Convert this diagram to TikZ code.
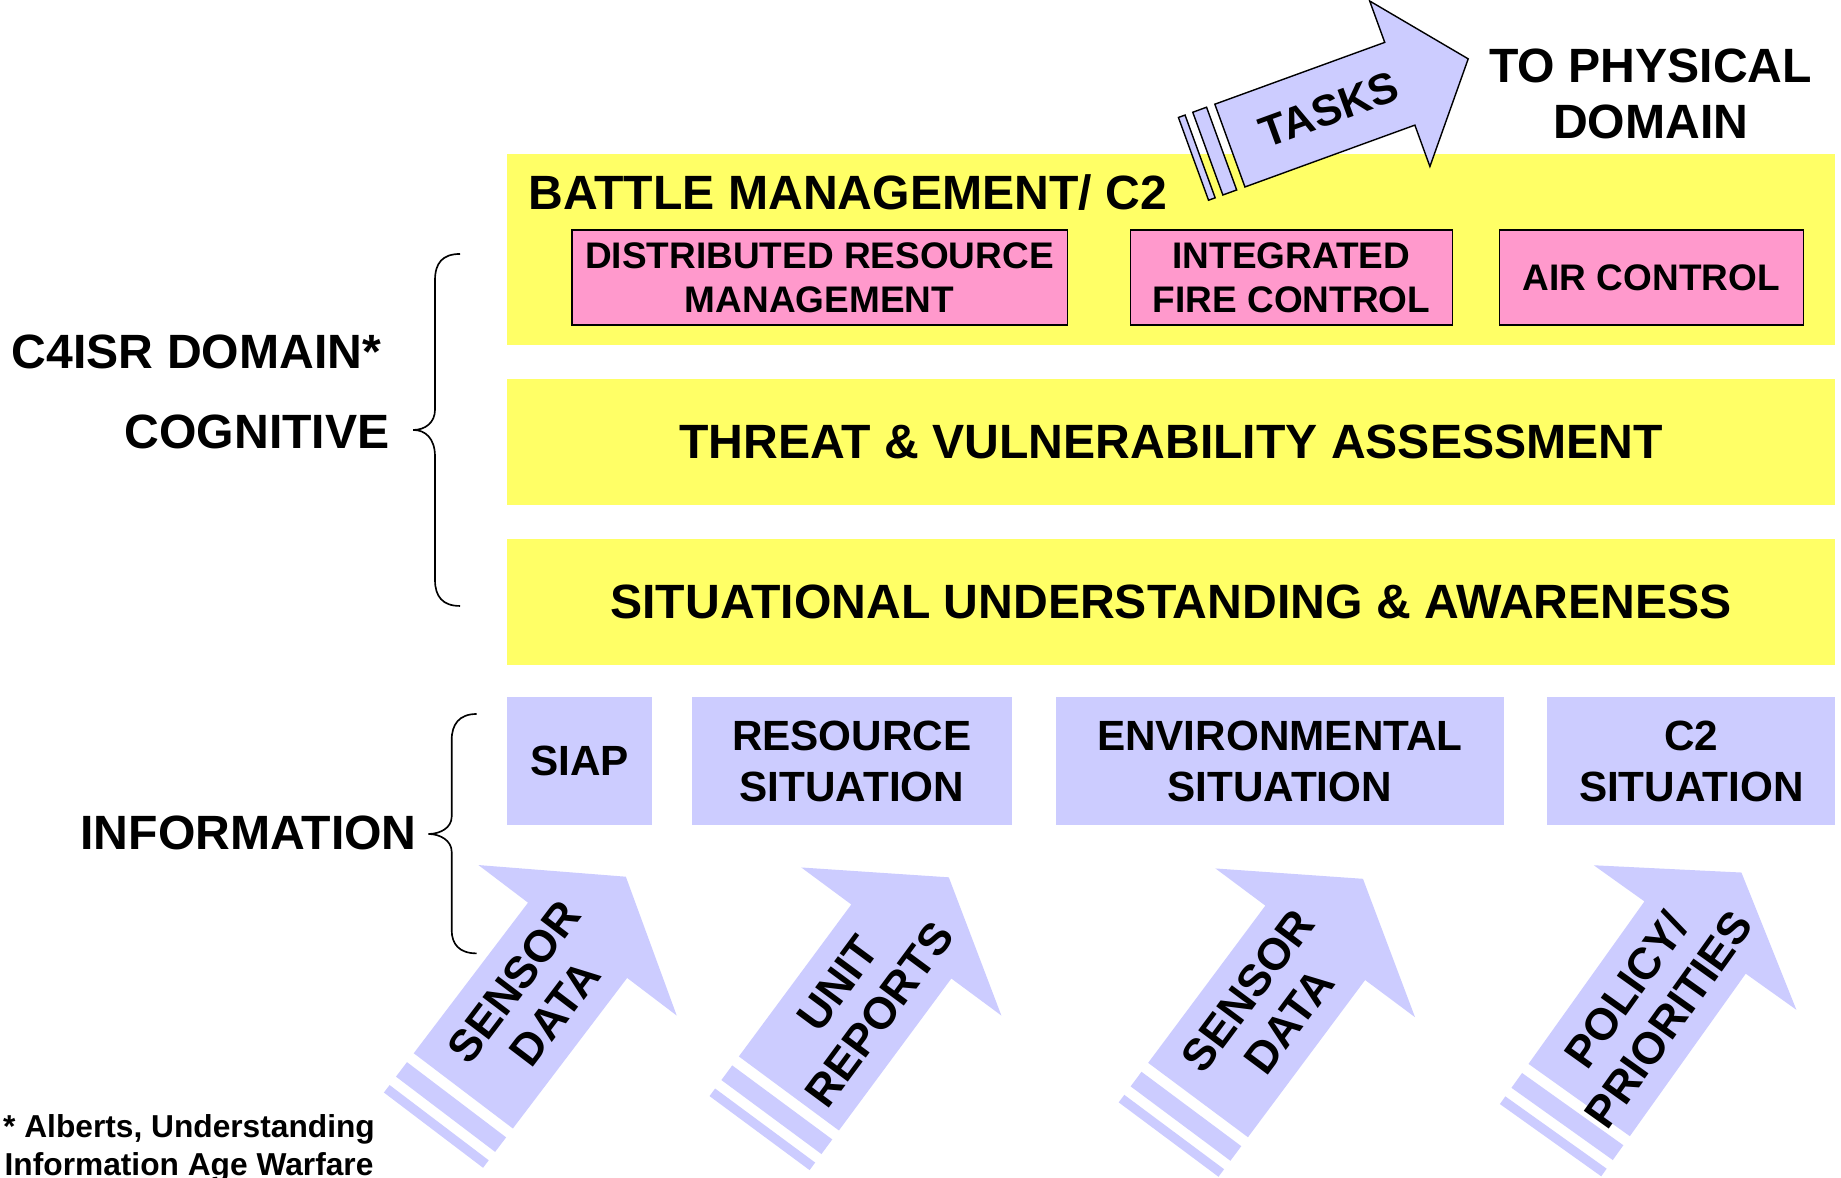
\documentclass[tikz,border=0pt]{standalone}
\usepackage{fontspec}
\setmainfont{Liberation Sans}
\definecolor{yel}{HTML}{FFFF66}
\definecolor{pnk}{HTML}{FF99CC}
\definecolor{lav}{HTML}{CCCCFF}
\tikzset{
  arrlen/.store in=\arrlen, arrlen=165,
  band/.style={fill=yel, minimum width=1131pt, inner sep=0pt, outer sep=0pt, font=\bfseries\fontsize{41}{48}\selectfont},
  pinkbox/.style={fill=pnk, draw=black, line width=1.3pt, minimum height=81pt, inner sep=0pt, align=center, font=\bfseries\fontsize{31.5}{38}\selectfont},
  lavbox/.style={fill=lav, minimum height=109pt, inner sep=0pt, align=center, font=\bfseries\fontsize{36}{44}\selectfont},
  lbl/.style={inner sep=0pt, align=center, font=\bfseries\fontsize{41}{48}\selectfont},
  brace/.style={draw=black, line width=1.4pt},
  uparrow/.pic={
    \fill[lav] (0,-53) -- (\arrlen,-53) -- (\arrlen,-106) -- (\arrlen+68,0) -- (\arrlen,106) -- (\arrlen,53) -- (0,53) -- cycle;
    \fill[lav] (-25,-53) rectangle (-9.5,53);
    \fill[lav] (-42,-53) rectangle (-34,53);
    \node[transform shape, inner sep=0pt, align=center, font=\bfseries\fontsize{38}{44}\selectfont] (-txt) at (100,0) {#1};
  }
}
\begin{document}
\begin{tikzpicture}[x=1pt,y=-1pt]
\useasboundingbox (0,0) rectangle (1568,1003);
\fill[white] (0,0) rectangle (1568,1003);

% yellow bands
\node[band, minimum height=163pt] (bm) at (997.5,212.5) {};
\node[band, minimum height=108pt] (tva) at (997.5,376.5) {THREAT \& VULNERABILITY ASSESSMENT};
\node[band, minimum height=107pt] (sua) at (997.5,512.5) {SITUATIONAL UNDERSTANDING \& AWARENESS};
\node[lbl, anchor=west] (bmt) at (450,164) {BATTLE MANAGEMENT/ C2};

% pink boxes
\node[pinkbox, minimum width=422pt] (drm) at (698,236.5) {DISTRIBUTED RESOURCE\\MANAGEMENT};
\node[pinkbox, minimum width=274pt] (ifc) at (1100,236.5) {INTEGRATED\\FIRE CONTROL};
\node[pinkbox, minimum width=259pt] (ac) at (1406.5,236.5) {AIR CONTROL};

% lavender boxes
\node[lavbox, minimum width=123pt] (siap) at (493.5,648.5) {SIAP};
\node[lavbox, minimum width=273pt] (res) at (725.5,648.5) {RESOURCE\\SITUATION};
\node[lavbox, minimum width=382pt] (env) at (1090,648.5) {ENVIRONMENTAL\\SITUATION};
\node[lavbox, minimum width=245pt] (c2s) at (1440.5,648.5) {C2\\SITUATION};

% tasks arrow
\begin{scope}[shift={(1047.5,124)}, rotate=20]
  \draw[fill=lav, line width=1.2pt] (-20,-37.5) rectangle (-7.5,37.5);
  \draw[fill=lav, line width=1.2pt] (-33,-37.5) rectangle (-27,37.5);
  \draw[fill=lav, line width=1.2pt, line join=miter] (0,-37.5) -- (154,-37.5) -- (154,-75) -- (216,0) -- (154,75) -- (154,37.5) -- (0,37.5) -- cycle;
  \node[transform shape, inner sep=0pt, font=\bfseries\fontsize{37}{44}\selectfont] (tasks) at (90,0) {TASKS};
\end{scope}
\node[lbl] (phys) at (1406,80) {TO PHYSICAL\\DOMAIN};

% bottom arrows
\pic (a1) [rotate=52.8, arrlen=161] at (394.6,929.1) {uparrow={SENSOR\\DATA}};
\pic (a2) [rotate=53.5, arrlen=161] at (671.9,931.3) {uparrow={UNIT\\REPORTS}};
\pic (a3) [rotate=53.3, arrlen=167] at (1020.4,936.9) {uparrow={SENSOR\\DATA}};
\pic (a4) [rotate=54.5, arrlen=170] at (1345,936.9) {uparrow={POLICY/\\PRIORITIES}};

% left labels
\node[lbl, anchor=west] (c4) at (10,300) {C4ISR DOMAIN*};
\node[lbl, anchor=east] (cog) at (332,368) {COGNITIVE};
\node[lbl, anchor=east] (info) at (355,709) {INFORMATION};

% braces
\draw[brace] (391.8,216.3) .. controls (377,216.3) and (370.5,224) .. (370.5,238.5) -- (370.5,349) .. controls (370.5,360) and (362,366.2) .. (352,366.2) .. controls (362,366.2) and (370.5,373) .. (370.5,389) -- (370.5,494) .. controls (370.5,508) and (377,516.1) .. (391.8,516.1);
\draw[brace] (406,608.1) .. controls (391,608.1) and (384.7,617) .. (384.7,630.3) -- (384.7,695.6) .. controls (384.7,705) and (375,710.3) .. (364.8,710.3) .. controls (375,710.3) and (384.7,716) .. (384.7,725.4) -- (384.7,792.1) .. controls (384.7,804) and (391,812) .. (406,812);

% footnote
\node[inner sep=0pt, align=center, font=\bfseries\fontsize{27}{32}\selectfont] (foot) at (161,978) {* Alberts, Understanding\\Information Age Warfare};
\end{tikzpicture}
\end{document}
